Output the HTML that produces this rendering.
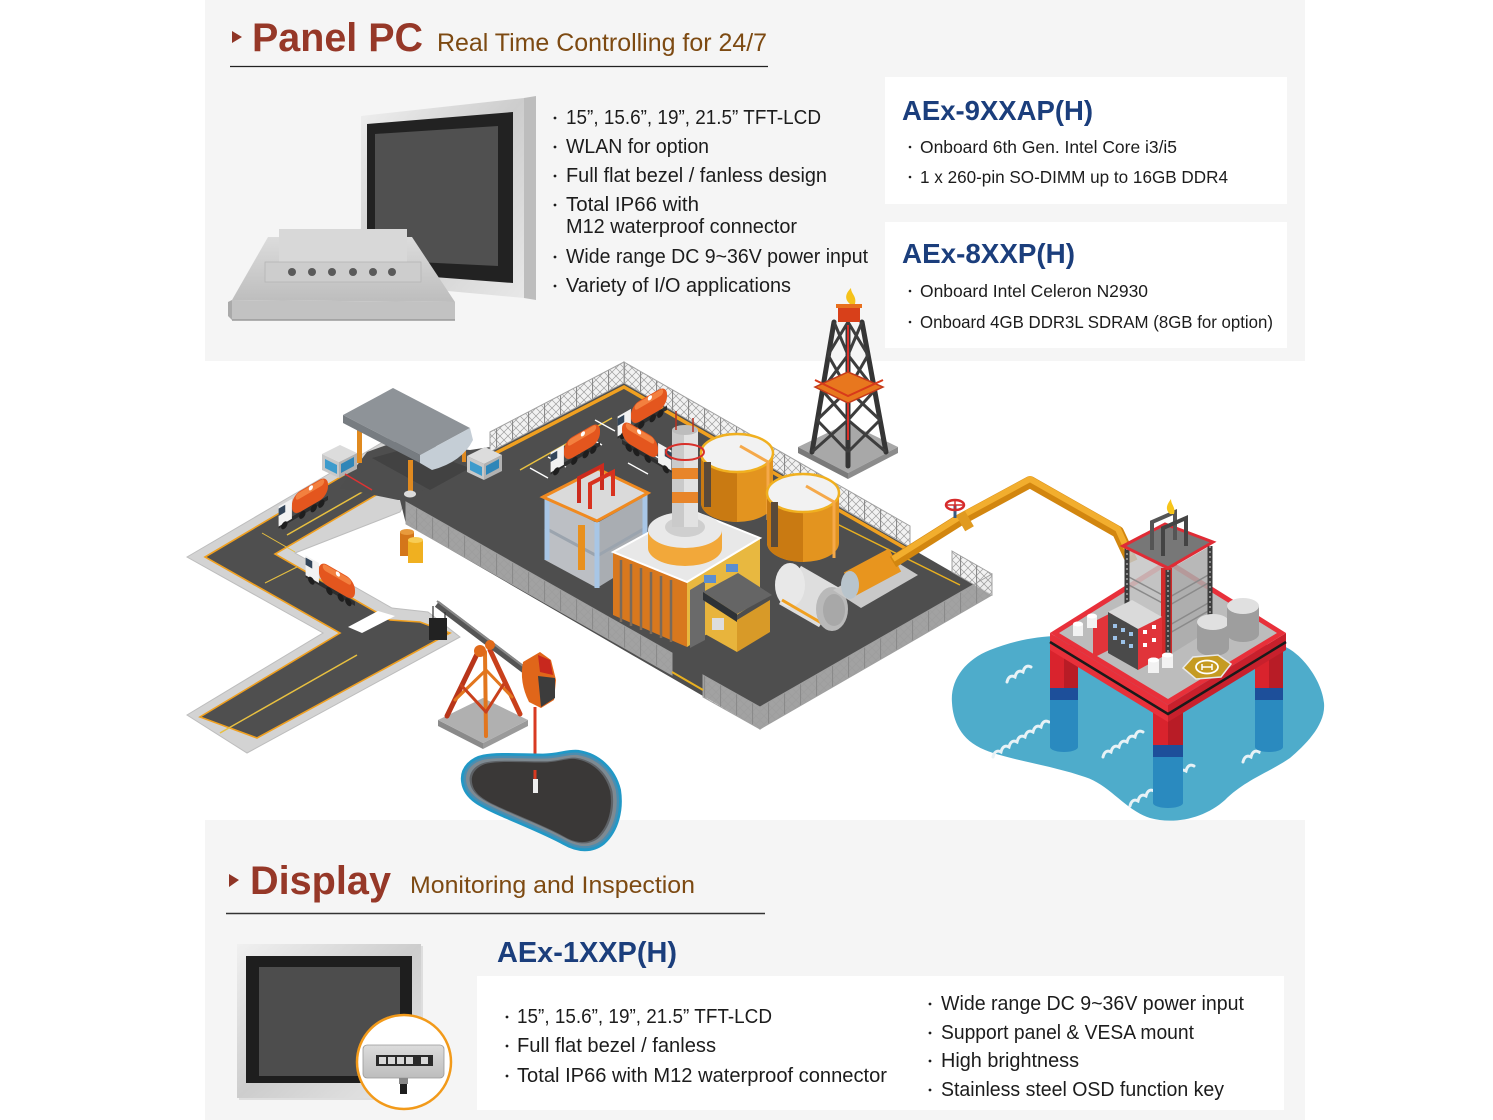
<!DOCTYPE html>
<html><head><meta charset="utf-8">
<style>
html,body{margin:0;padding:0;background:#fff;}
body{width:1493px;height:1120px;position:relative;overflow:hidden;}
svg{position:absolute;left:0;top:0;display:block;}
</style></head><body>
<svg width="1493" height="1120" viewBox="0 0 1493 1120" xmlns="http://www.w3.org/2000/svg" font-family="'Liberation Sans', sans-serif">
<defs>
 <pattern id="mesh" width="16" height="8" patternUnits="userSpaceOnUse">
  <rect width="16" height="8" fill="#e6e6e6" fill-opacity="0.55"/>
  <path d="M0,0L8,8M8,0L16,8M0,8L8,0M8,8L16,0" stroke="#9c9c9c" stroke-width="0.7"/>
  <path d="M0.5,0V8" stroke="#8a8a8a" stroke-width="1.2"/>
 </pattern>
 <linearGradient id="silver" x1="0" y1="0" x2="1" y2="1">
  <stop offset="0" stop-color="#f0f0f0"/><stop offset="0.5" stop-color="#cdcdcd"/><stop offset="1" stop-color="#e8e8e8"/>
 </linearGradient>
 <linearGradient id="silver2" x1="0" y1="0" x2="0" y2="1">
  <stop offset="0" stop-color="#dcdcdc"/><stop offset="1" stop-color="#bdbdbd"/>
 </linearGradient>
 <path id="poolp" d="M462,780 C460,768 470,760 480,758 C495,755 520,757 543,757 C560,757 570,752 580,753 C600,756 615,770 620,790 C623,810 618,830 605,842 C595,850 582,850 568,842 C550,832 525,822 500,811 C480,802 464,795 462,780 Z"/>
 <g id="truck">
  <rect x="0" y="-4" width="52" height="4" fill="#2e2e2e"/>
  <rect x="0" y="-24" width="38" height="20" rx="9" fill="#e4561e"/>
  <rect x="4" y="-23" width="30" height="6" rx="3" fill="#f3803f"/>
  <circle cx="18" cy="-21" r="2.2" fill="#fff"/>
  <rect x="38" y="-21" width="14" height="19" fill="#f2f2f2"/>
  <rect x="45" y="-19" width="7" height="7" fill="#34465a"/>
  <circle cx="7" cy="0" r="3.4" fill="#1e1e1e"/><circle cx="15" cy="0" r="3.4" fill="#1e1e1e"/>
  <circle cx="27" cy="0" r="3.4" fill="#1e1e1e"/><circle cx="46" cy="0" r="3.4" fill="#1e1e1e"/>
 </g>
</defs>

<!-- section backgrounds -->
<rect x="205" y="0" width="1100" height="361" fill="#f5f5f5"/>
<rect x="205" y="820" width="1100" height="300" fill="#f5f5f5"/>
<rect x="885" y="77" width="402" height="127" fill="#ffffff"/>
<rect x="885" y="222" width="402" height="126" fill="#ffffff"/>
<rect x="477" y="976" width="807" height="134" fill="#ffffff"/>

<!-- ========== ROADS ========== -->
<polygon points="187,557 327,475 400,432 425,465 400,512 295,553 392,608 428,612 460,637 247,753 187,715 323,633" fill="#d3d3d3" stroke="#bdbdbd" stroke-width="1"/>
<polygon points="205,557 400,442 412,462 400,481 275,554 390,620 420,622 450,633 257,738 200,717 340,633" fill="#4f4f4f" stroke="#f0a020" stroke-width="1.6"/>
<polygon points="348,627 378,611 395,616 362,633" fill="#ffffff"/>
<line x1="287" y1="535" x2="378" y2="483" stroke="#e8c040" stroke-width="1.5"/>
<line x1="220" y1="733" x2="357" y2="655" stroke="#e8c040" stroke-width="1.5"/>
<line x1="262" y1="533" x2="295" y2="552" stroke="#e8c040" stroke-width="1"/>
<line x1="265" y1="583" x2="297" y2="567" stroke="#e8c040" stroke-width="1"/>

<!-- ========== FACTORY PLATE ========== -->
<polygon points="624,383 992,595 760,729 406,524 400,500 490,452" fill="#4e4e4e"/>
<polygon points="367,452 395,442 470,450 490,447 490,452 406,500 398,500 340,488" fill="#4e4e4e"/>
<polygon points="372,458 412,447 470,468 430,490" fill="#424242"/>
<!-- back fences -->
<polygon points="490,432 624,362 624,383 490,452" fill="url(#mesh)" stroke="#a0a0a0" stroke-width="1"/>
<polygon points="624,362 910,526 910,547 624,383" fill="url(#mesh)" stroke="#a0a0a0" stroke-width="1"/>
<polygon points="952,551 992,574 992,595 952,572" fill="url(#mesh)" stroke="#a0a0a0" stroke-width="1"/>
<polyline points="490,456 624,387 910,551" fill="none" stroke="#f0a020" stroke-width="3.5"/>
<line x1="833" y1="522" x2="960" y2="585" stroke="#e8b020" stroke-width="1.5"/>
<line x1="520" y1="470" x2="612" y2="418" stroke="#e8c040" stroke-width="1.5"/>
<!-- parking -->
<g stroke="#ffffff" stroke-width="1.3">
 <line x1="530" y1="468" x2="548" y2="478"/><line x1="548" y1="457" x2="566" y2="467"/>
 <line x1="566" y1="446" x2="584" y2="456"/><line x1="584" y1="435" x2="602" y2="445"/>
 <line x1="595" y1="420" x2="615" y2="431"/><line x1="628" y1="463" x2="648" y2="474"/>
 <line x1="648" y1="452" x2="668" y2="463"/>
</g>
<!-- trucks in parking -->
<use href="#truck" transform="matrix(-0.95,0.55,0,1.05,667,410)"/>
<use href="#truck" transform="matrix(-0.95,0.55,0,1.05,600,446)"/>
<use href="#truck" transform="matrix(0.95,0.55,0,1.05,622,444)"/>

<!-- scaffold tower -->
<polygon points="545,497 597,523 597,588 545,560" fill="#c9ccd1" fill-opacity="0.9"/>
<polygon points="597,523 647,495 647,557 597,588" fill="#b4b8be" fill-opacity="0.9"/>
<polyline points="545,528 597,556 647,527" fill="none" stroke="#9ba4ae" stroke-width="3"/>
<g stroke="#a8c6e6" stroke-width="5"><line x1="547" y1="497" x2="547" y2="560"/><line x1="597" y1="522" x2="597" y2="588"/><line x1="645" y1="495" x2="645" y2="558"/></g>
<rect x="578" y="525" width="7" height="45" fill="#e8901e"/>
<polygon points="543,497 598,469 648,493 597,521" fill="#dadada" stroke="#f08a20" stroke-width="3"/>
<path d="M579,503 V478 L602,466 V490" fill="none" stroke="#cc2a1e" stroke-width="4"/>
<path d="M590,509 V484 L613,472 V496" fill="none" stroke="#d8321f" stroke-width="4"/>

<!-- tanks -->
<path d="M701,453 V503 A36,19 0 0 0 773,503 V453 Z" fill="#e3941f"/>
<path d="M701,453 V503 A36,19 0 0 0 737,522 V453 Z" fill="#c97a12"/>
<ellipse cx="737" cy="453" rx="36" ry="19" fill="#f2f2f2" stroke="#f0b020" stroke-width="2.5"/>
<rect x="704" y="462" width="7" height="45" fill="#5a4a3a"/>
<path d="M740,446 L768,462 V520" fill="none" stroke="#f5a94a" stroke-width="3"/>
<path d="M767,493 V543 A36,19 0 0 0 839,543 V493 Z" fill="#e3941f"/>
<path d="M767,493 V543 A36,19 0 0 0 803,562 V493 Z" fill="#c97a12"/>
<ellipse cx="803" cy="493" rx="36" ry="19" fill="#f2f2f2" stroke="#f0b020" stroke-width="2.5"/>
<rect x="771" y="502" width="7" height="45" fill="#5a4a3a"/>
<path d="M806,486 L834,502 V558" fill="none" stroke="#f5a94a" stroke-width="3"/>

<!-- main building -->
<polygon points="613,552 687,582 687,647 613,615" fill="#d8781e"/>
<g stroke="#7a6a5a" stroke-width="2.5"><line x1="621" y1="560" x2="621" y2="622"/><line x1="631" y1="564" x2="631" y2="626"/><line x1="641" y1="568" x2="641" y2="630"/><line x1="651" y1="572" x2="651" y2="634"/><line x1="661" y1="576" x2="661" y2="638"/><line x1="671" y1="580" x2="671" y2="642"/></g>
<polygon points="687,582 760,538 760,600 687,647" fill="#e8b840"/>
<polygon points="690,590 705,581 705,640 690,648" fill="#6a6a6a"/>
<polygon points="613,552 690,510 760,538 687,582" fill="#e8e8e8" stroke="#ffffff" stroke-width="2"/>
<g fill="#5c8ed0"><rect x="704" y="575" width="12" height="8"/><rect x="726" y="564" width="12" height="8"/></g>
<!-- chimney -->
<ellipse cx="685" cy="548" rx="37" ry="18" fill="#f2a83a"/>
<rect x="648" y="530" width="74" height="18" fill="#f2a83a"/>
<ellipse cx="685" cy="530" rx="37" ry="18" fill="#e9e9e9"/>
<ellipse cx="685" cy="527" rx="20" ry="10" fill="#cfcfcf"/>
<rect x="672" y="430" width="26" height="97" fill="#e2e2e2"/>
<rect x="672" y="430" width="12" height="97" fill="#cacaca"/>
<rect x="672" y="468" width="26" height="11" fill="#e8852a"/>
<rect x="672" y="492" width="26" height="11" fill="#e8852a"/>
<ellipse cx="685" cy="430" rx="13" ry="5" fill="#bdbdbd"/>
<ellipse cx="685" cy="452" rx="19" ry="8" fill="none" stroke="#d8302a" stroke-width="2"/>
<line x1="676" y1="411" x2="676" y2="430" stroke="#b83020" stroke-width="1.5"/>
<line x1="693" y1="418" x2="693" y2="432" stroke="#b83020" stroke-width="1.5"/>
<!-- small building -->
<polygon points="705,600 737,620 737,652 705,634" fill="#e8b43c"/>
<polygon points="737,620 770,600 770,632 737,652" fill="#d89a28"/>
<rect x="712" y="618" width="12" height="12" fill="#ddd"/>
<polygon points="703,592 738,573 772,595 737,614" fill="#656565"/>
<polygon points="703,592 737,614 737,622 703,600" fill="#2e3236"/>
<!-- white horizontal tank -->
<line x1="790" y1="585" x2="830" y2="608" stroke="#dedede" stroke-width="44"/>
<ellipse cx="790" cy="585" rx="15" ry="22" fill="#e8e8e8"/>
<line x1="782" y1="600" x2="825" y2="625" stroke="#f0a020" stroke-width="3"/>
<ellipse cx="832" cy="609" rx="16" ry="22" fill="#b9b9b9"/>
<ellipse cx="834" cy="610" rx="11" ry="16" fill="#a8a8a8"/>
<!-- compressor -->
<polygon points="833,590 890,558 918,575 861,608" fill="#c9c9c9"/>
<line x1="850" y1="584" x2="895" y2="560" stroke="#e8951e" stroke-width="26"/>
<ellipse cx="850" cy="585" rx="9" ry="14" fill="#b8c4cc"/>
<!-- pipe -->
<polyline points="893,562 958,521 1030,482 1118,532 1132,562" fill="none" stroke="#d2860f" stroke-width="12" stroke-linejoin="round"/>
<polyline points="893,559 958,518 1030,479 1118,529 1130,556" fill="none" stroke="#f2ae2e" stroke-width="6" stroke-linejoin="round"/>
<rect x="960" y="512" width="10" height="18" fill="#e09a20" transform="rotate(-30 965 521)"/>
<line x1="955" y1="505" x2="955" y2="518" stroke="#3a5a80" stroke-width="3"/>
<ellipse cx="955" cy="505" rx="9" ry="5" fill="none" stroke="#d62b2b" stroke-width="2.5"/>
<line x1="946" y1="505" x2="964" y2="505" stroke="#d62b2b" stroke-width="1.5"/>
<line x1="955" y1="500" x2="955" y2="510" stroke="#d62b2b" stroke-width="1.5"/>

<!-- front fences -->
<polygon points="992,574 760,707 760,729 992,595" fill="url(#mesh)" stroke="#a0a0a0" stroke-width="1"/>
<polygon points="406,502 672,653 672,675 406,524" fill="url(#mesh)" stroke="#a0a0a0" stroke-width="1"/>
<polygon points="703,675 760,707 760,729 703,697" fill="url(#mesh)" stroke="#a0a0a0" stroke-width="1"/>
<line x1="672" y1="672" x2="703" y2="690" stroke="#e8b020" stroke-width="2"/>

<!-- gas station -->
<rect x="357" y="430" width="5" height="33" fill="#e08a20"/>
<rect x="408" y="460" width="5" height="33" fill="#e08a20"/>
<rect x="462" y="440" width="4" height="22" fill="#e08a20"/>
<ellipse cx="410" cy="494" rx="6" ry="3.5" fill="#dcdcdc"/>
<polygon points="343,415 393,388 470,428 420,455" fill="#8e9398"/>
<polygon points="343,415 420,455 420,463 343,423" fill="#777c81"/>
<path d="M420,455 L470,428 L473,440 Q462,462 432,470 L420,463 Z" fill="#c5ced6"/>
<!-- booths -->
<polygon points="322,454 339,462 339,478 322,470" fill="#c8c8c8"/>
<polygon points="339,462 357,453 357,469 339,478" fill="#b2b2b2"/>
<polygon points="322,454 340,445 357,453 339,462" fill="#dcdcdc"/>
<polygon points="325,459 337,465 337,474 325,468" fill="#3d9bcc"/>
<polygon points="341,464 354,457 354,466 341,473" fill="#2f86b8"/>
<line x1="345" y1="474" x2="372" y2="490" stroke="#d33" stroke-width="1.5"/>
<polygon points="467,456 484,464 484,480 467,472" fill="#c8c8c8"/>
<polygon points="484,464 502,455 502,471 484,480" fill="#b2b2b2"/>
<polygon points="467,456 485,447 502,455 484,464" fill="#dcdcdc"/>
<polygon points="470,461 482,467 482,476 470,470" fill="#3d9bcc"/>
<polygon points="486,466 499,459 499,468 486,475" fill="#2f86b8"/>
<!-- road trucks -->
<use href="#truck" transform="matrix(-0.95,0.55,0,1.05,328,500)"/>
<use href="#truck" transform="matrix(-0.95,-0.55,0,1.05,355,606)"/>
<!-- barrels -->
<rect x="400" y="532" width="14" height="24" fill="#d4761a"/>
<ellipse cx="407" cy="532" rx="7" ry="3" fill="#e89a3c"/>
<rect x="408" y="540" width="15" height="23" fill="#f0b020"/>
<ellipse cx="415.5" cy="540" rx="7.5" ry="3" fill="#f8cd55"/>

<!-- ========== OIL DERRICK ========== -->
<polygon points="798,447 848,423 898,447 848,473" fill="#a8a8a8"/>
<polygon points="798,447 848,473 848,479 798,453" fill="#7a7a7a"/>
<polygon points="848,473 898,447 898,453 848,479" fill="#8c8c8c"/>
<g stroke="#353535" stroke-width="5" stroke-linecap="round">
 <line x1="834" y1="322" x2="812" y2="452"/><line x1="862" y1="322" x2="886" y2="452"/><line x1="848" y1="325" x2="848" y2="466"/>
</g>
<g stroke="#3d3d3d" stroke-width="3">
 <line x1="834" y1="322" x2="848" y2="355"/><line x1="848" y1="322" x2="828" y2="355"/>
 <line x1="828" y1="355" x2="848" y2="390"/><line x1="848" y1="355" x2="822" y2="390"/>
 <line x1="822" y1="390" x2="848" y2="420"/><line x1="848" y1="390" x2="817" y2="420"/>
 <line x1="817" y1="420" x2="848" y2="452"/><line x1="848" y1="420" x2="812" y2="452"/>
 <line x1="862" y1="322" x2="848" y2="355"/><line x1="848" y1="322" x2="868" y2="355"/>
 <line x1="868" y1="355" x2="848" y2="390"/><line x1="848" y1="355" x2="875" y2="390"/>
 <line x1="875" y1="390" x2="848" y2="420"/><line x1="848" y1="390" x2="880" y2="420"/>
 <line x1="880" y1="420" x2="848" y2="452"/><line x1="848" y1="420" x2="886" y2="452"/>
</g>
<line x1="848" y1="325" x2="848" y2="440" stroke="#d9302a" stroke-width="2"/>
<polygon points="815,387 848,372 883,387 848,403" fill="#e8771e" stroke="#c43a1a" stroke-width="1.5"/>
<polyline points="815,380 848,396 883,380" fill="none" stroke="#d83a1a" stroke-width="2"/>
<rect x="838" y="306" width="22" height="16" fill="#d8401a"/>
<rect x="836" y="304" width="26" height="4" fill="#e8701e"/>
<path d="M850,304 C843,298 847,292 851,288 C851,294 857,296 855,304 Z" fill="#f5c21a"/>

<!-- ========== PUMP JACK ========== -->
<polygon points="438,720 483,743 483,749 438,726" fill="#8a8a8a"/>
<polygon points="483,743 528,720 528,726 483,749" fill="#9a9a9a"/>
<polygon points="438,720 483,698 528,720 483,743" fill="#b0b0b0"/>
<g stroke-linecap="round">
 <line x1="479" y1="650" x2="447" y2="716" stroke="#b8351a" stroke-width="5"/>
 <line x1="490" y1="650" x2="520" y2="714" stroke="#c9401c" stroke-width="5"/>
 <line x1="485" y1="652" x2="486" y2="736" stroke="#e2761e" stroke-width="4"/>
 <line x1="455" y1="700" x2="486" y2="670" stroke="#e2761e" stroke-width="3"/>
 <line x1="461" y1="685" x2="486" y2="712" stroke="#c9401c" stroke-width="3"/>
 <line x1="512" y1="697" x2="486" y2="670" stroke="#e2761e" stroke-width="3"/>
 <line x1="505" y1="682" x2="486" y2="712" stroke="#c9401c" stroke-width="3"/>
</g>
<line x1="437" y1="604" x2="527" y2="672" stroke="#555" stroke-width="7"/>
<line x1="437" y1="601" x2="527" y2="669" stroke="#888" stroke-width="2"/>
<line x1="433" y1="606" x2="433" y2="619" stroke="#333" stroke-width="1.2"/>
<line x1="445" y1="612" x2="445" y2="620" stroke="#333" stroke-width="1.2"/>
<rect x="429" y="618" width="18" height="22" fill="#222"/>
<circle cx="480" cy="651" r="6" fill="#e06a1a"/>
<circle cx="490" cy="645" r="5" fill="#e06a1a"/>
<path d="M523,662 L540,652 L551,660 L556,680 L554,700 L541,708 L529,702 Q519,682 523,662 Z" fill="#e0661a"/>
<path d="M538,655 L550,660 L553,675 L540,672 Z" fill="#c8281e"/>
<path d="M538,676 L555,678 L555,698 L541,707 Z" fill="#3c3c3c"/>
<line x1="535" y1="707" x2="535" y2="779" stroke="#d83a22" stroke-width="3"/>

<!-- oil pool (uniform rings via strokes) -->
<g transform="translate(542 801) scale(0.93) translate(-542 -801)" stroke-linejoin="round">
 <use href="#poolp" fill="#2198c6" stroke="#2198c6" stroke-width="14"/>
 <use href="#poolp" fill="#4b8db0" stroke="#4b8db0" stroke-width="8"/>
 <use href="#poolp" fill="#7e8a92" stroke="#7e8a92" stroke-width="3"/>
 <use href="#poolp" fill="#5e6266" transform="translate(542 801) scale(0.97) translate(-542 -801)"/>
 <use href="#poolp" fill="#3a3837" transform="translate(542 801) scale(0.94) translate(-542 -801)"/>
</g>
<line x1="535" y1="770" x2="535" y2="779" stroke="#d83a22" stroke-width="3"/>
<rect x="533" y="779" width="5" height="14" fill="#eeeeee"/>

<!-- ========== OFFSHORE PLATFORM ========== -->
<path d="M952,703 C950,680 965,660 990,650 C1010,642 1035,636 1060,636 L1280,645 C1300,650 1322,680 1324,703 C1326,725 1305,745 1290,758 C1270,772 1245,780 1225,800 C1205,818 1175,825 1150,818 C1125,810 1110,785 1085,777 C1050,765 1010,760 985,750 C960,740 953,720 952,703 Z" fill="#4eaccb"/>
<g fill="none" stroke="#e8f2f6" stroke-width="3" stroke-linecap="round">
 <path d="M993,757 q2,-8 8,-5 q2,-8 8,-5 q2,-8 8,-5 q2,-8 8,-5 q2,-8 8,-5 q2,-8 8,-5 q2,-8 8,-5"/>
 <path d="M1007,682 q2,-8 8,-5 q2,-8 8,-5 q2,-8 8,-5"/>
 <path d="M1103,757 q2,-8 8,-5 q2,-8 8,-5 q2,-8 8,-5 q2,-8 8,-5 q2,-8 8,-5"/>
 <path d="M1130,806 q2,-8 8,-5 q2,-8 8,-5 q2,-8 8,-5 q2,-8 8,-5 q2,-8 8,-5 q2,-8 8,-5 q2,-8 8,-5 q2,-8 8,-5"/>
 <path d="M1243,762 q2,-8 8,-5 q2,-8 8,-5 q2,-8 8,-5"/>
</g>
<!-- legs -->
<g>
 <rect x="1050" y="700" width="28" height="47" fill="#2a8abf"/><ellipse cx="1064" cy="747" rx="14" ry="5" fill="#2a8abf"/>
 <rect x="1050" y="688" width="28" height="12" fill="#1d4f9a"/>
 <rect x="1050" y="645" width="28" height="43" fill="#d9232d"/><rect x="1064" y="645" width="14" height="43" fill="#b81c26"/>
 <rect x="1255" y="700" width="28" height="47" fill="#2a8abf"/><ellipse cx="1269" cy="747" rx="14" ry="5" fill="#2a8abf"/>
 <rect x="1255" y="688" width="28" height="12" fill="#1d4f9a"/>
 <rect x="1255" y="645" width="28" height="43" fill="#d9232d"/><rect x="1269" y="645" width="14" height="43" fill="#b81c26"/>
 <rect x="1153" y="757" width="30" height="46" fill="#2a8abf"/><ellipse cx="1168" cy="803" rx="15" ry="5" fill="#2a8abf"/>
 <rect x="1153" y="745" width="30" height="12" fill="#1d4f9a"/>
 <rect x="1153" y="712" width="30" height="33" fill="#d9232d"/><rect x="1168" y="712" width="15" height="33" fill="#b81c26"/>
</g>
<!-- deck -->
<polygon points="1050,633 1168,705 1168,722 1050,650" fill="#e8303a"/>
<polygon points="1168,705 1286,633 1286,650 1168,722" fill="#c8202c"/>
<polyline points="1050,642 1168,714 1286,642" fill="none" stroke="#1a1a1a" stroke-width="2.5"/>
<polygon points="1050,633 1168,559 1286,633 1168,705" fill="#e8303a"/>
<polygon points="1059,633 1168,565 1277,633 1168,699" fill="#bcbcbc"/>
<!-- tower -->
<polygon points="1127,548 1168,570 1168,656 1127,630" fill="#c4c4c4" fill-opacity="0.85"/>
<polygon points="1168,570 1210,546 1210,630 1168,656" fill="#acacac" fill-opacity="0.85"/>
<g fill="none" stroke="#8a8a8a" stroke-width="1.5">
 <polyline points="1127,576 1168,598 1210,574"/><polyline points="1127,604 1168,626 1210,602"/>
 <polyline points="1127,584 1168,606 1210,582"/><polyline points="1127,612 1168,634 1210,610"/>
</g>
<rect x="1161" y="568" width="11" height="88" fill="#d22a2a"/>
<g stroke="#3c3c3c" stroke-width="5"><line x1="1127" y1="548" x2="1127" y2="630"/><line x1="1168" y1="570" x2="1168" y2="656"/><line x1="1210" y1="546" x2="1210" y2="630"/></g>
<g stroke="#8a8a8a" stroke-width="2" stroke-dasharray="2,3"><line x1="1127" y1="548" x2="1127" y2="630"/><line x1="1168" y1="570" x2="1168" y2="656"/><line x1="1210" y1="546" x2="1210" y2="630"/></g>
<polygon points="1123,546 1165,524 1213,542 1168,568" fill="#777777" stroke="#e02b35" stroke-width="3"/>
<path d="M1152,550 V522 L1175,512 V540" fill="none" stroke="#555" stroke-width="4"/>
<path d="M1163,556 V528 L1186,518 V546" fill="none" stroke="#444" stroke-width="4"/>
<path d="M1170,514 C1164,509 1168,503 1171,499 C1171,505 1176,507 1174,514 Z" fill="#f7c51a"/>
<!-- building on deck -->
<polygon points="1093,622 1113,612 1113,648 1093,658" fill="#e0343a"/>
<polygon points="1108,612 1132,600 1162,617 1138,629" fill="#dadada"/>
<polygon points="1108,612 1138,629 1138,670 1108,653" fill="#4a4a4a"/>
<polygon points="1138,629 1162,617 1162,657 1138,670" fill="#e0343a"/>
<g fill="#9cc2e8"><rect x="1113" y="624" width="4" height="4"/><rect x="1121" y="628" width="4" height="4"/><rect x="1129" y="632" width="4" height="4"/><rect x="1113" y="636" width="4" height="4"/><rect x="1121" y="640" width="4" height="4"/><rect x="1129" y="644" width="4" height="4"/></g>
<g fill="#fff"><rect x="1143" y="630" width="4" height="4"/><rect x="1152" y="625" width="4" height="4"/><rect x="1143" y="643" width="4" height="4"/><rect x="1152" y="638" width="4" height="4"/></g>
<!-- small white tanks -->
<g fill="#f2f2f2">
 <rect x="1073" y="624" width="10" height="12"/><ellipse cx="1078" cy="624" rx="5" ry="2.5" fill="#fff"/>
 <rect x="1087" y="616" width="10" height="12"/><ellipse cx="1092" cy="616" rx="5" ry="2.5" fill="#fff"/>
 <rect x="1148" y="660" width="11" height="13"/><ellipse cx="1153.5" cy="660" rx="5.5" ry="2.5" fill="#fff"/>
 <rect x="1162" y="655" width="11" height="13"/><ellipse cx="1167.5" cy="655" rx="5.5" ry="2.5" fill="#fff"/>
</g>
<!-- gray tanks -->
<path d="M1197,622 V648 A16,8 0 0 0 1229,648 V622 Z" fill="#9e9e9e"/>
<ellipse cx="1213" cy="622" rx="16" ry="8" fill="#e0e0e0"/>
<path d="M1227,606 V634 A16,8 0 0 0 1259,634 V606 Z" fill="#9e9e9e"/>
<ellipse cx="1243" cy="606" rx="16" ry="8" fill="#e0e0e0"/>
<!-- helipad -->
<polygon points="1183,668 1193,657 1218,655 1231,664 1221,677 1196,679" fill="#c59b22" stroke="#e8e8e8" stroke-width="1.5"/>
<ellipse cx="1207" cy="667" rx="11" ry="6.5" fill="none" stroke="#fff" stroke-width="1.8"/>
<path d="M1202,664 V670 M1212,664 V670 M1202,667 H1212" stroke="#fff" stroke-width="1.5"/>

<!-- ========== PANEL PC IMAGE ========== -->
<polygon points="361,116 524,98 524,298 361,283" fill="url(#silver)"/>
<polygon points="524,98 536,96 536,300 524,298" fill="#bdbdbd"/>
<polygon points="367,124 513,112 513,283 367,272" fill="#222222"/>
<polygon points="375,134 498,126 498,266 375,260" fill="#505050"/>
<polygon points="268,237 412,237 455,302 232,300" fill="url(#silver2)"/>
<polygon points="232,300 455,302 455,320 232,320" fill="#c2c2c2"/>
<polygon points="228,302 232,300 232,320 228,316" fill="#aaa"/>
<rect x="279" y="229" width="128" height="36" fill="#d8d8d8"/>
<rect x="265" y="262" width="156" height="20" fill="#cdcdcd" stroke="#b5b5b5" stroke-width="0.8"/>
<g fill="#5a5a5a">
 <circle cx="292" cy="272" r="4"/><circle cx="312" cy="272" r="4"/><circle cx="332" cy="272" r="4"/>
 <circle cx="353" cy="272" r="4"/><circle cx="373" cy="272" r="4"/><circle cx="392" cy="272" r="4"/>
</g>
<line x1="232" y1="320" x2="455" y2="320" stroke="#999" stroke-width="1.5"/>

<!-- ========== DISPLAY IMAGE ========== -->
<rect x="239" y="946" width="184" height="154" fill="#cfcfcf" opacity="0.6"/>
<rect x="237" y="944" width="184" height="154" fill="url(#silver)"/>
<rect x="246" y="956" width="166" height="127" fill="#1e1e1e"/>
<rect x="259" y="967" width="141" height="109" fill="#4d4d4d"/>
<circle cx="404" cy="1062" r="47" fill="#ffffff" stroke="#f29a1a" stroke-width="2.5"/>
<rect x="363" y="1045" width="81" height="33" rx="4" fill="url(#silver2)" stroke="#999" stroke-width="0.8"/>
<rect x="376" y="1055" width="57" height="11" fill="#2a2a2a"/>
<g fill="#d8d8d8"><rect x="379" y="1057" width="7" height="7"/><rect x="388" y="1057" width="7" height="7"/><rect x="397" y="1057" width="7" height="7"/><rect x="406" y="1057" width="7" height="7"/><rect x="421" y="1057" width="7" height="7"/></g>
<rect x="399" y="1078" width="9" height="6" fill="#888"/>
<rect x="400" y="1084" width="7" height="10" fill="#1e1e1e"/>

<!-- ========== TEXT: PANEL PC ========== -->
<polygon points="232,31 242,37 232,43" fill="#8f3526"/>
<text x="252" y="51" font-size="40" font-weight="bold" fill="#963828" textLength="171" lengthAdjust="spacingAndGlyphs">Panel PC</text>
<text x="437" y="51" font-size="25" fill="#7d4a12" textLength="330" lengthAdjust="spacingAndGlyphs">Real Time Controlling for 24/7</text>
<line x1="230" y1="66.5" x2="768" y2="66.5" stroke="#222" stroke-width="1.3"/>

<g fill="#1c1c1c" font-size="20">
 <circle cx="555" cy="118" r="1.4"/><text x="566" y="124" textLength="255" lengthAdjust="spacingAndGlyphs">15”, 15.6”, 19”, 21.5” TFT-LCD</text>
 <circle cx="555" cy="147" r="1.4"/><text x="566" y="153" textLength="143" lengthAdjust="spacingAndGlyphs">WLAN for option</text>
 <circle cx="555" cy="176" r="1.4"/><text x="566" y="182" textLength="261" lengthAdjust="spacingAndGlyphs">Full flat bezel / fanless design</text>
 <circle cx="555" cy="205" r="1.4"/><text x="566" y="211" textLength="133" lengthAdjust="spacingAndGlyphs">Total IP66 with</text>
 <text x="566" y="233" textLength="231" lengthAdjust="spacingAndGlyphs">M12 waterproof connector</text>
 <circle cx="555" cy="257" r="1.4"/><text x="566" y="263" textLength="302" lengthAdjust="spacingAndGlyphs">Wide range DC 9~36V power input</text>
 <circle cx="555" cy="286" r="1.4"/><text x="566" y="292" textLength="225" lengthAdjust="spacingAndGlyphs">Variety of I/O applications</text>
</g>

<text x="902" y="120" font-size="28" font-weight="bold" fill="#1b3e7c" textLength="191" lengthAdjust="spacingAndGlyphs">AEx-9XXAP(H)</text>
<text x="902" y="263" font-size="28" font-weight="bold" fill="#1b3e7c" textLength="173" lengthAdjust="spacingAndGlyphs">AEx-8XXP(H)</text>
<g fill="#1c1c1c" font-size="17.5">
 <circle cx="910" cy="147" r="1.3"/><text x="920" y="153" textLength="257" lengthAdjust="spacingAndGlyphs">Onboard 6th Gen. Intel Core i3/i5</text>
 <circle cx="910" cy="177" r="1.3"/><text x="920" y="183" textLength="308" lengthAdjust="spacingAndGlyphs">1 x 260-pin SO-DIMM up to 16GB DDR4</text>
 <circle cx="910" cy="291" r="1.3"/><text x="920" y="297" textLength="228" lengthAdjust="spacingAndGlyphs">Onboard Intel Celeron N2930</text>
 <circle cx="910" cy="322" r="1.3"/><text x="920" y="328" textLength="353" lengthAdjust="spacingAndGlyphs">Onboard 4GB DDR3L SDRAM (8GB for option)</text>
</g>

<!-- ========== TEXT: DISPLAY ========== -->
<polygon points="229,874 239,880 229,887" fill="#8f3526"/>
<text x="250" y="894" font-size="40" font-weight="bold" fill="#963828" textLength="141" lengthAdjust="spacingAndGlyphs">Display</text>
<text x="410" y="893" font-size="24.5" fill="#7d4a12" textLength="285" lengthAdjust="spacingAndGlyphs">Monitoring and Inspection</text>
<line x1="226" y1="913.5" x2="765" y2="913.5" stroke="#333" stroke-width="1.6"/>
<text x="497" y="962" font-size="29" font-weight="bold" fill="#1b3e7c" textLength="180" lengthAdjust="spacingAndGlyphs">AEx-1XXP(H)</text>
<g fill="#1c1c1c" font-size="20">
 <circle cx="507" cy="1017" r="1.4"/><text x="517" y="1023" textLength="255" lengthAdjust="spacingAndGlyphs">15”, 15.6”, 19”, 21.5” TFT-LCD</text>
 <circle cx="507" cy="1046" r="1.4"/><text x="517" y="1052" textLength="199" lengthAdjust="spacingAndGlyphs">Full flat bezel / fanless</text>
 <circle cx="507" cy="1076" r="1.4"/><text x="517" y="1082" textLength="370" lengthAdjust="spacingAndGlyphs">Total IP66 with M12 waterproof connector</text>
 <circle cx="930" cy="1004" r="1.4"/><text x="941" y="1010" textLength="303" lengthAdjust="spacingAndGlyphs">Wide range DC 9~36V power input</text>
 <circle cx="930" cy="1033" r="1.4"/><text x="941" y="1039" textLength="253" lengthAdjust="spacingAndGlyphs">Support panel &amp; VESA mount</text>
 <circle cx="930" cy="1061" r="1.4"/><text x="941" y="1067" textLength="138" lengthAdjust="spacingAndGlyphs">High brightness</text>
 <circle cx="930" cy="1090" r="1.4"/><text x="941" y="1096" textLength="283" lengthAdjust="spacingAndGlyphs">Stainless steel OSD function key</text>
</g>
</svg>
</body></html>
